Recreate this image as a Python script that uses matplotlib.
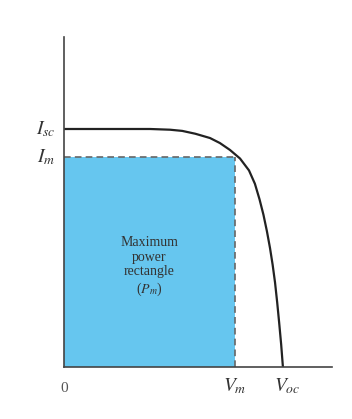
import matplotlib.pyplot as plt
from matplotlib.patches import Rectangle

plt.rcParams['mathtext.fontset'] = 'stix'
plt.rcParams['font.family'] = 'Liberation Serif'

# I-V curve of a solar cell (normalised: Voc = 1, Isc = 1)
volt = [0.0, 0.393, 0.484, 0.54, 0.60, 0.667, 0.712, 0.758, 0.804, 0.845, 0.872,
        0.893, 0.911, 0.927, 0.941, 0.953, 0.964, 0.974, 0.983, 0.992, 1.0]
curr = [1.0, 1.0, 0.997, 0.992, 0.980, 0.962, 0.941, 0.912, 0.876, 0.826, 0.770,
        0.705, 0.640, 0.570, 0.500, 0.430, 0.355, 0.270, 0.185, 0.095, 0.0]

v_oc, v_m = 1.0, 0.78
i_sc, i_m = 1.0, 0.882

fig = plt.figure(figsize=(3.52, 4.19), dpi=100)
ax = fig.add_axes([0.182, 0.124, 0.761, 0.788])
ax.set_xlim(0, 1.224)
ax.set_ylim(0, 1.387)

# maximum power rectangle
ax.add_patch(Rectangle((0, 0), v_m, i_m, facecolor='#66c6ef', edgecolor='none'))
ax.plot([0, v_m], [i_m, i_m], color='#666666', lw=1.2, ls=(0, (4, 2.5)))
ax.plot([v_m, v_m], [0, i_m], color='#666666', lw=1.2, ls=(0, (4, 2.5)))

ax.plot(volt, curr, color='#222222', lw=1.6, solid_joinstyle='round')

for s in ['top', 'right']:
    ax.spines[s].set_visible(False)
for s in ['left', 'bottom']:
    ax.spines[s].set_color('#444444')
    ax.spines[s].set_linewidth(1.2)
ax.set_xticks([])
ax.set_yticks([])

ax.text(0.39, 0.42, 'Maximum\npower\nrectangle\n($P_m$)', ha='center', va='center',
        fontsize=10, color='#333333', linespacing=1.15)

ax.text(-0.04, i_sc, '$I_{sc}$', ha='right', va='center', fontsize=14, color='#333333')
ax.text(-0.04, i_m, '$I_m$', ha='right', va='center', fontsize=14, color='#333333')
ax.text(0.0, -0.09, '0', ha='center', va='center', fontsize=11, color='#555555')
ax.text(v_m, -0.08, '$V_m$', ha='center', va='center', fontsize=14, color='#333333')
ax.text(v_oc + 0.02, -0.08, '$V_{oc}$', ha='center', va='center', fontsize=14, color='#333333')

fig.savefig('out.png', dpi=100)
